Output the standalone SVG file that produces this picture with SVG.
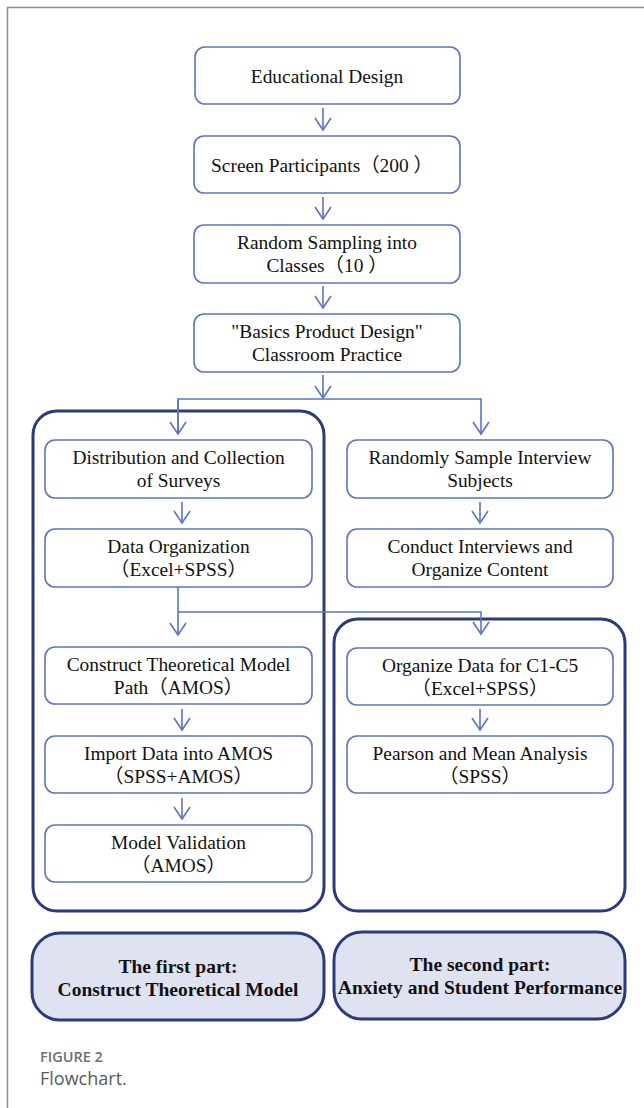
<svg xmlns="http://www.w3.org/2000/svg" width="644" height="1108" viewBox="0 0 644 1108">
<style>
.frame{fill:none;stroke:#8a8a8a;stroke-width:1.5}
.node{fill:#fff;stroke:#5b74c4;stroke-width:1.6}
.cont{fill:none;stroke:#2c3b78;stroke-width:3}
.part{fill:#dfe3f1;stroke:#2c3b78;stroke-width:3}
.t{font-family:"Liberation Serif","Noto Sans CJK SC",serif;font-size:19.4px;fill:#111;text-anchor:middle}
.b{font-family:"Liberation Serif","Noto Sans CJK SC",serif;font-size:19.5px;font-weight:bold;fill:#111;text-anchor:middle}
.c{fill:none;stroke:#5b74c4;stroke-width:1.6}
.cap1{font-family:"Open Sans",sans-serif;font-size:14.5px;font-weight:600;fill:#6e6e6e}
.cap2{font-family:"Open Sans",sans-serif;font-size:18px;fill:#5a5a5a}
</style>
<defs>
<marker id="ah" markerUnits="userSpaceOnUse" markerWidth="16" markerHeight="20" viewBox="0 0 16 20" refX="13" refY="10" orient="auto">
<path d="M1,2 L13,10 L1,18" fill="none" stroke="#5b74c4" stroke-width="1.6"/>
</marker>
</defs>
<path class="frame" d="M7.5,1108 V7.5 H644"/>

<g id="containers">
<rect id="part1-box" class="cont" x="33" y="411" width="291" height="500" rx="24"/>
<rect id="part2-box" class="cont" x="334" y="619" width="291" height="292" rx="24"/>
</g>

<g id="connectors">
<line class="c" x1="323" y1="108" x2="323" y2="130" marker-end="url(#ah)"/>
<line class="c" x1="323" y1="197" x2="323" y2="219" marker-end="url(#ah)"/>
<line class="c" x1="323" y1="286" x2="323" y2="308" marker-end="url(#ah)"/>
<line class="c" x1="323" y1="375" x2="323" y2="398" marker-end="url(#ah)"/>
<polyline class="c" points="178,434 178,399 481,399 481,434" marker-end="url(#ah)"/>
<line class="c" x1="178" y1="400" x2="178" y2="434" marker-end="url(#ah)"/>
<line class="c" x1="182" y1="502" x2="182" y2="523" marker-end="url(#ah)"/>
<line class="c" x1="480" y1="502" x2="480" y2="523" marker-end="url(#ah)"/>
<line class="c" x1="178" y1="587" x2="178" y2="635" marker-end="url(#ah)"/>
<polyline class="c" points="178,612 481,612 481,634" marker-end="url(#ah)"/>
<line class="c" x1="182" y1="709" x2="182" y2="730" marker-end="url(#ah)"/>
<line class="c" x1="182" y1="798" x2="182" y2="819" marker-end="url(#ah)"/>
<line class="c" x1="480" y1="709" x2="480" y2="730" marker-end="url(#ah)"/>
</g>

<g id="n1"><rect class="node" x="195" y="47" width="265" height="57" rx="10"/><text class="t" x="327" y="82.5">Educational Design</text></g>
<g id="n2"><rect class="node" x="194" y="136" width="266" height="57" rx="10"/><text class="t" x="322" y="172">Screen Participants（200 ）</text></g>
<g id="n3"><rect class="node" x="194" y="225" width="266" height="58" rx="10"/><text class="t" x="327" y="249">Random Sampling into</text><text class="t" x="327" y="272">Classes（10 ）</text></g>
<g id="n4"><rect class="node" x="194" y="314" width="266" height="58" rx="10"/><text class="t" x="327" y="338">"Basics Product Design"</text><text class="t" x="327" y="361">Classroom Practice</text></g>

<g id="n5"><rect class="node" x="45" y="440" width="267" height="58" rx="10"/><text class="t" x="178.5" y="464">Distribution and Collection</text><text class="t" x="178.5" y="487">of Surveys</text></g>
<g id="n6"><rect class="node" x="45" y="529" width="267" height="58" rx="10"/><text class="t" x="178.5" y="553">Data Organization</text><text class="t" x="178.5" y="576">（Excel+SPSS）</text></g>
<g id="n7"><rect class="node" x="45" y="647" width="267" height="57" rx="10"/><text class="t" x="178.5" y="670.5">Construct Theoretical Model</text><text class="t" x="178.5" y="693.5">Path（AMOS）</text></g>
<g id="n8"><rect class="node" x="45" y="736" width="267" height="57" rx="10"/><text class="t" x="178.5" y="759.5">Import Data into AMOS</text><text class="t" x="178.5" y="782.5">（SPSS+AMOS）</text></g>
<g id="n9"><rect class="node" x="45" y="825" width="267" height="57" rx="10"/><text class="t" x="178.5" y="848.5">Model Validation</text><text class="t" x="178.5" y="871.5">（AMOS）</text></g>

<g id="n10"><rect class="node" x="347" y="440" width="266" height="58" rx="10"/><text class="t" x="480" y="464">Randomly Sample Interview</text><text class="t" x="480" y="487">Subjects</text></g>
<g id="n11"><rect class="node" x="347" y="529" width="266" height="58" rx="10"/><text class="t" x="480" y="553">Conduct Interviews and</text><text class="t" x="480" y="576">Organize Content</text></g>
<g id="n12"><rect class="node" x="347" y="648" width="266" height="57" rx="10"/><text class="t" x="480" y="671.5">Organize Data for C1-C5</text><text class="t" x="480" y="694.5">（Excel+SPSS）</text></g>
<g id="n13"><rect class="node" x="347" y="736" width="266" height="57" rx="10"/><text class="t" x="480" y="759.5">Pearson and Mean Analysis</text><text class="t" x="480" y="782.5">（SPSS）</text></g>

<g id="part1"><rect class="part" x="32" y="933" width="292" height="87" rx="28"/><text class="b" x="178" y="973">The first part:</text><text class="b" x="178" y="996">Construct Theoretical Model</text></g>
<g id="part2"><rect class="part" x="334" y="932" width="291" height="87" rx="28"/><text class="b" x="480" y="971">The second part:</text><text class="b" x="480" y="994">Anxiety and Student Performance</text></g>

<text class="cap1" x="40" y="1062">FIGURE 2</text>
<text class="cap2" x="40" y="1085">Flowchart.</text>
</svg>
